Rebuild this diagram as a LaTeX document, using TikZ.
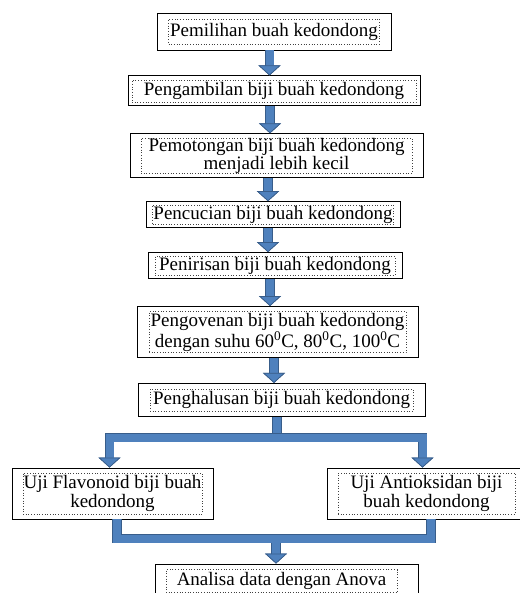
\documentclass[tikz,border=0pt]{standalone}
\usepackage{fontspec}
\setmainfont{Liberation Serif}
\usepackage{tikz}
\usetikzlibrary{positioning,arrows.meta}
\definecolor{ArrowBlue}{HTML}{4F81BD}
\definecolor{ArrowEdge}{HTML}{385D8A}

\begin{document}
\begin{tikzpicture}[
x=1pt, y=1pt,
node distance=25pt,
frame/.style 2 args={draw, line width=0.9pt, minimum width=#1, minimum height=#2, inner sep=0pt},
textbox/.style 2 args={draw=black!75, dotted, line width=0.7pt, minimum width=#1, minimum height=#2, inner sep=0pt, align=center, font=\fontsize{19}{20}\selectfont},
pipe/.style={line width=8pt, ArrowBlue, line join=miter, preaction={draw=ArrowEdge, line width=9.6pt}},
flow/.style={pipe, -{Triangle[width=22pt, length=10pt, line width=0.7pt, color=ArrowEdge, fill=ArrowBlue]}}
]
\useasboundingbox (0,0) rectangle (519,-593);

% main column
\node[frame={234pt}{37pt}] (pilih) at (274,-31.5) {};
\node[textbox={211pt}{25pt}] (pilih-t) at (pilih) {Pemilihan buah kedondong};
\node[frame={292pt}{30pt}, below=25pt of pilih] (ambil) {};
\node[textbox={284pt}{22pt}] (ambil-t) at (ambil) {Pengambilan biji buah kedondong};
\node[frame={293pt}{44pt}, below=27pt of ambil, xshift=2.5pt] (potong) {};
\node[textbox={271pt}{35pt}] (potong-t) at (potong) {Pemotongan biji buah kedondong\\[-2pt]menjadi lebih kecil};
\node[frame={254pt}{26pt}, below=23pt of potong, xshift=-3.5pt] (cuci) {};
\node[textbox={241pt}{19pt}] (cuci-t) at (cuci) {Pencucian biji buah kedondong};
\node[frame={254pt}{26pt}, below=24pt of cuci, xshift=2pt] (tiris) {};
\node[textbox={240pt}{19pt}] (tiris-t) at (tiris) {Penirisan biji buah kedondong};
\node[frame={281pt}{51pt}, below=27pt of tiris, xshift=2.5pt] (oven) {};
\node[textbox={257pt}{41pt}] (oven-t) at (oven) {Pengovenan biji buah kedondong\\[1pt]dengan suhu 60\textsuperscript{0}C, 80\textsuperscript{0}C, 100\textsuperscript{0}C};
\node[frame={287pt}{33pt}, below=25pt of oven, xshift=4pt] (halus) {};
\node[textbox={263pt}{22pt}] (halus-t) at (halus) {Penghalusan biji buah kedondong};

% the two tests
\node[frame={201pt}{51pt}] (flav) at (112.5,-493.5) {};
\node[textbox={179pt}{41pt}] (flav-t) at (flav) {Uji Flavonoid biji buah\\[-1pt]kedondong};
\node[frame={195pt}{51pt}] (anti) at (424.5,-493.5) {};
\node[textbox={177pt}{41pt}] (anti-t) at ([xshift=2pt]anti) {Uji Antioksidan biji\\[-1pt]buah kedondong};
\node[frame={263pt}{34pt}] (analisa) at (286.5,-581) {};
\node[textbox={231pt}{23pt}] (analisa-t) at ([xshift=-5pt]analisa) {Analisa data dengan Anova};

\coordinate (fork) at (277,-437.5);
\coordinate (merge) at (276,-538.5);

% arrows
\foreach \a/\b/\dx in {pilih/ambil/-4.5, ambil/potong/-4, potong/cuci/-8.5, cuci/tiris/-5, tiris/oven/-5, oven/halus/-3.5}
  \draw[flow] ([xshift=\dx pt]\a.south) -- ([xshift=\dx pt]\a.south |- \b.north);

\draw[pipe] (halus.south -| fork) -- (fork);
\draw[flow] (fork) -| ([xshift=-3pt]flav.north);
\draw[flow] (fork) -| ([xshift=-2pt]anti.north);

\draw[flow] (merge) -- (merge |- analisa.north);
\draw[pipe] ([xshift=4.5pt]flav.south) |- (merge) -| ([xshift=6.5pt]anti.south);
\end{tikzpicture}
\end{document}
